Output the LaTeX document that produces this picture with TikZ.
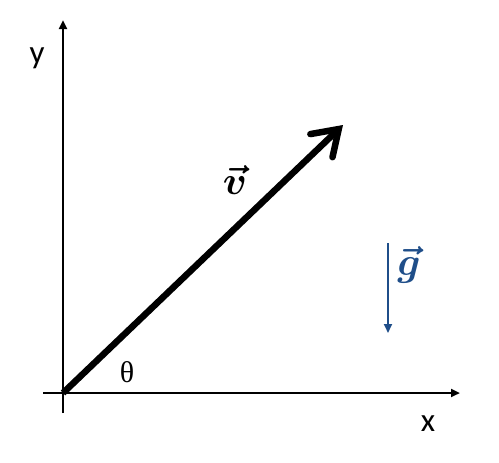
\RequirePackage{fix-cm}
\documentclass[tikz,border=0pt]{standalone}
\usepackage{amsmath,amssymb}
\usepackage{fontspec}
\setsansfont{Carlito}
\newfontfamily\thetafont{Liberation Serif}
\usepackage{tikz}
\usetikzlibrary{arrows.meta}
\definecolor{gblue}{RGB}{31,78,137}

\begin{document}
\begin{tikzpicture}[x=1pt,y=-1pt,
		axis/.style={line width=2.5pt,-{Triangle[length=9pt,width=8pt]}},
		lbl/.style={font=\fontsize{33}{35}\selectfont\sffamily},
		vec lbl/.style={font=\fontsize{40}{42}\selectfont}]
				\useasboundingbox (0,0) rectangle (499,463);
				\coordinate (O) at (63,393);
				\coordinate (ybot) at (63,413);
				\coordinate (ytop) at (63,20);
				\coordinate (xleft) at (43,393);
				\coordinate (xright) at (460,393);
				\coordinate (vtip) at (343,125);
				\coordinate (gtop) at (388,243);
				\coordinate (gbot) at (388,333);
				\draw[axis] (ybot) -- (ytop);
				\draw[axis] (xleft) -- (xright);
				\draw[line width=6.5pt,-{Straight Barb[length=24pt,width=32pt,line cap=round]}] (O) -- (vtip);
				\draw[gblue,line width=2pt,-{Triangle[length=9pt,width=8pt]}] (gtop) -- (gbot);
				\node[lbl] (ylabel) at (37,58) {y};
				\node[lbl] (xlabel) at (428,424) {x};
				\node[font=\fontsize{30}{32}\selectfont\thetafont] (theta) at (127,372) {θ};
				\node[vec lbl] (vlabel) at (235,180) {$\boldsymbol{\vec{v}}$};
				\node[vec lbl,text=gblue] (glabel) at (409,265) {$\boldsymbol{\vec{g}}$};
			\end{tikzpicture}
\end{document}
